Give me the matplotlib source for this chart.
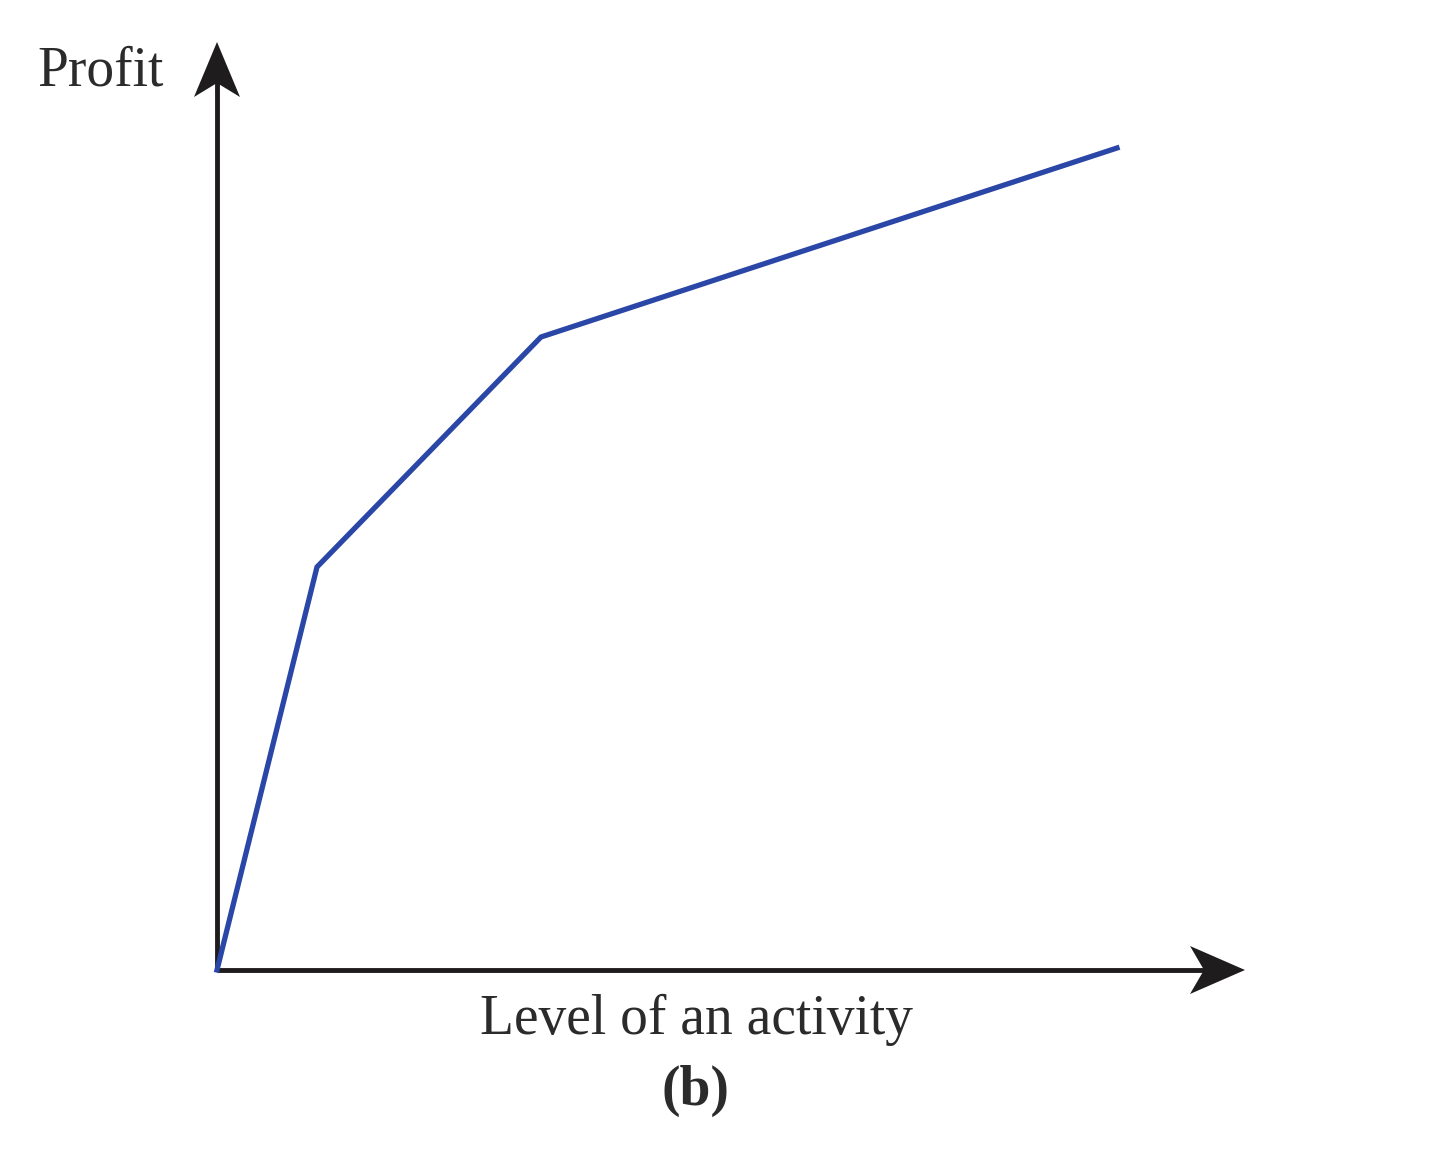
import numpy as np
import matplotlib
matplotlib.use("Agg")
import matplotlib.pyplot as plt
from matplotlib.patches import Polygon

# curve vertices (activity level, profit), origin at the axes corner
activity = [0, 100, 324, 900]
profit = [0, 403, 633, 822]

x_axis_len = 1028
y_axis_len = 928
x_label = "Level of an activity"
y_label = "Profit"
panel = "(b)"

plt.rcParams["font.family"] = ["Liberation Serif", "DejaVu Serif"]

fig = plt.figure(figsize=(14.4, 11.57), dpi=100)
ax = fig.add_axes([0, 0, 1, 1])
ax.set_xlim(-217, 1440 - 217)
ax.set_ylim(-(1157 - 970), 970)
ax.axis("off")

axis_col = "#1e1c1d"


def arrow_head(tip, direction, length=55, half_w=24, notch=14):
    d = np.array(direction, dtype=float)
    n = np.array([-d[1], d[0]])
    tip = np.array(tip, dtype=float)
    back = tip - d * length
    pts = [tip, back + n * half_w, tip - d * (length - notch), back - n * half_w]
    ax.add_patch(Polygon(pts, closed=True, color=axis_col, lw=0, zorder=4))


# axes
ax.plot([0, x_axis_len - 40], [0, 0], color=axis_col, lw=3.5, solid_capstyle="butt", zorder=3)
ax.plot([0, 0], [0, y_axis_len - 40], color=axis_col, lw=3.5, solid_capstyle="butt", zorder=3)
arrow_head((x_axis_len, 0), (1, 0))
arrow_head((0, y_axis_len), (0, 1), length=55, half_w=23)

# profit curve
ax.plot(activity, profit, color="#2a46a6", lw=3.8, solid_joinstyle="miter", zorder=5)

ax.text(-116, 899, y_label, fontsize=40, color="#2b2b2b", ha="center", va="center")
ax.text(479, -50, x_label, fontsize=40, color="#2b2b2b", ha="center", va="center")
ax.text(479, -121, panel, fontsize=40, color="#2b2b2b", ha="center", va="center",
        fontweight="bold")

fig.savefig("out.png", dpi=100, facecolor="white")
